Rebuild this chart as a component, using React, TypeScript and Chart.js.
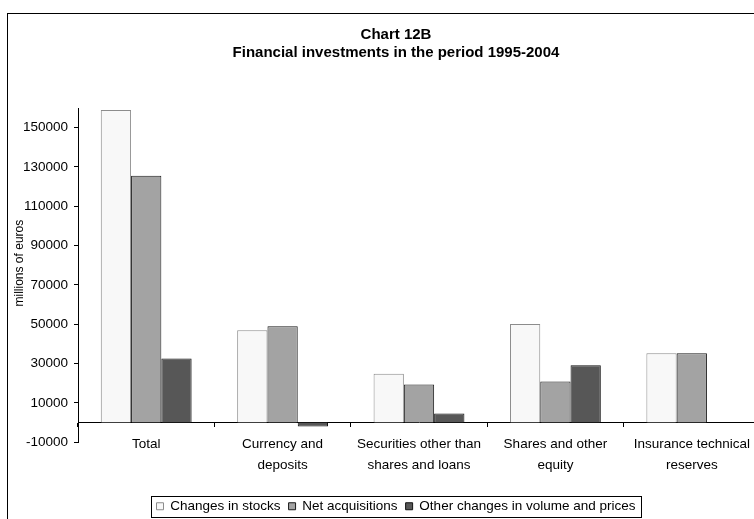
import React, { useEffect, useRef } from "react";
import { Chart, registerables } from "chart.js";

Chart.register(...registerables);

const categories: (string | string[])[] = [
  "Total",
  ["Currency and", "deposits"],
  ["Securities other than", "shares and loans"],
  ["Shares and other", "equity"],
  ["Insurance technical", "reserves"],
];
const changesInStocks = [159000, 46900, 24800, 50100, 35300];
const netAcquisitions = [125600, 49000, 19400, 20900, 35300];
const otherChanges = [32600, -2000, 4600, 29200, 0];
const yTicks = [-10000, 10000, 30000, 50000, 70000, 90000, 110000, 130000, 150000];
const yMin = -10000;
const yMax = 160000;
const yAxisTitle = "millions of euros";

const FONT = "'Liberation Sans', Arial, Helvetica, sans-serif";

const legendFrame = {
  id: "legendFrame",
  afterDraw(chart: any) {
    const lg = chart.legend;
    const hb = lg && lg.legendHitBoxes;
    if (!hb || !hb.length) return;
    const first = hb[0];
    const last = hb[hb.length - 1];
    const l = Math.round(first.left - 6);
    const r = Math.round(last.left + last.width + 6);
    const t = Math.round(first.top - 4);
    const b = Math.round(first.top + first.height + 4);
    const ctx = chart.ctx;
    ctx.save();
    ctx.strokeStyle = "#000";
    ctx.lineWidth = 1;
    ctx.strokeRect(l + 0.5, t + 0.5, r - l, b - t);
    ctx.restore();
  },
};

const yTitlePlugin = {
  id: "yTitle",
  afterDraw(chart: any) {
    const ca = chart.chartArea;
    const ctx = chart.ctx;
    ctx.save();
    ctx.translate(19.5, (ca.top + ca.bottom) / 2 - 12);
    ctx.rotate(-Math.PI / 2);
    ctx.textAlign = "center";
    ctx.textBaseline = "middle";
    ctx.fillStyle = "#000";
    ctx.font = `12px ${FONT}`;
    ctx.fillText(yAxisTitle, 0, 0);
    ctx.restore();
  },
};

export default function App() {
  const ref = useRef<HTMLCanvasElement | null>(null);

  useEffect(() => {
    if (!ref.current) return;
    const chart = new Chart(ref.current, {
      type: "bar",
      data: {
        labels: categories,
        datasets: [
          {
            label: "Changes in stocks",
            data: changesInStocks,
            backgroundColor: "#f8f8f8",
            borderColor: "#8c8c8c",
            borderWidth: 1,
          },
          {
            label: "Net acquisitions",
            data: netAcquisitions,
            backgroundColor: "#a3a3a3",
            borderColor: "#1a1a1a",
            borderWidth: 1,
          },
          {
            label: "Other changes in volume and prices",
            data: otherChanges,
            backgroundColor: "#575757",
            borderColor: "#111111",
            borderWidth: 1,
          },
        ],
      },
      options: {
        animation: false,
        responsive: false,
        maintainAspectRatio: false,
        datasets: { bar: { barPercentage: 1, categoryPercentage: 0.666 } },
        layout: { padding: { left: 12, right: 0, top: 0, bottom: 0 } },
        plugins: {
          title: {
            display: true,
            text: ["Chart 12B", "Financial investments in the period 1995-2004"],
            color: "#000",
            font: { family: FONT, size: 15, weight: "bold", lineHeight: 18 / 15 },
            padding: { top: 26, bottom: 46 },
          },
          legend: {
            position: "bottom",
            title: {
              display: true,
              text: " ",
              font: { family: FONT, size: 10, lineHeight: 1.2 },
              padding: { top: 37.25, bottom: 0 },
            },
            labels: {
              boxWidth: 7,
              boxHeight: 7,
              padding: 8,
              color: "#000",
              font: { family: FONT, size: 13.5 },
            },
          },
          tooltip: { enabled: false },
        },
        scales: {
          x: {
            position: { y: 0 },
            grid: {
              drawOnChartArea: false,
              drawTicks: true,
              tickLength: 4,
              color: "#000",
              offset: true,
            },
            border: { color: "#000" },
            ticks: {
              color: "#000",
              padding: 7.5,
              maxRotation: 0,
              autoSkip: false,
              font: { family: FONT, size: 13.5, lineHeight: 21 / 13.5 },
            },
          },
          y: {
            min: yMin,
            max: yMax,
            afterBuildTicks: (s: any) => {
              s.ticks = yTicks.map((v) => ({ value: v }));
            },
            afterFit: (s: any) => {
              s.width = 66;
            },
            grid: { drawOnChartArea: false, tickLength: 4, color: "#000" },
            border: { color: "#000" },
            ticks: {
              color: "#000",
              padding: 6,
              font: { family: FONT, size: 13.5 },
              callback: (v: any) => String(v),
            },
            title: { display: false },
          },
          spacer: {
            type: "linear",
            position: "right",
            display: true,
            grid: { display: false, drawTicks: false },
            border: { display: false },
            ticks: { display: false },
            afterFit: (s: any) => {
              s.width = 20;
            },
          },
        },
      },
      plugins: [legendFrame, yTitlePlugin],
    });
    return () => chart.destroy();
  }, []);

  return (
    <div
      style={{
        position: "absolute",
        left: 0,
        top: 0,
        width: 754,
        height: 519,
        overflow: "hidden",
        background: "#fff",
      }}
    >
      <div
        style={{
          position: "absolute",
          left: 7,
          top: 13,
          width: 800,
          height: 600,
          border: "1px solid #000",
          boxSizing: "border-box",
        }}
      />
      <canvas
        ref={ref}
        width={780}
        height={523}
        style={{ position: "absolute", left: 0, top: 0, width: 780, height: 523 }}
      />
    </div>
  );
}
